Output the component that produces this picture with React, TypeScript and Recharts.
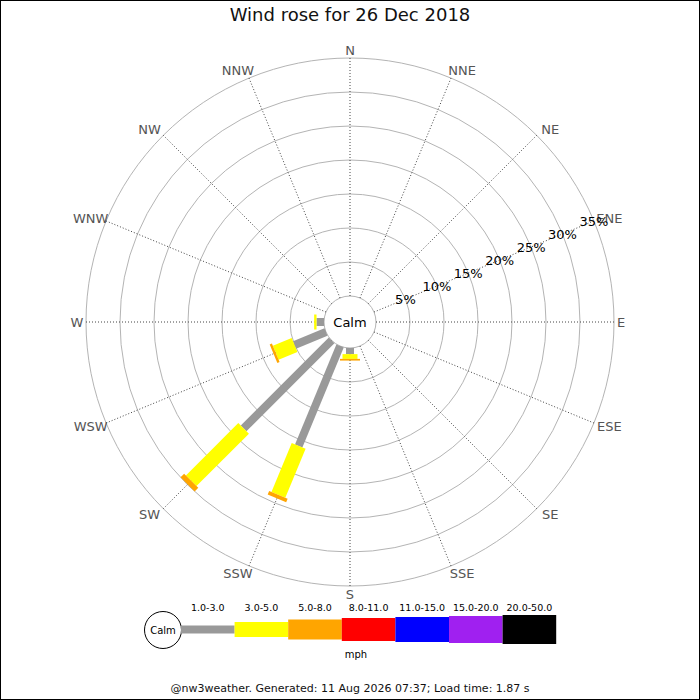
import React from "react";
import {
  RadialBarChart,
  RadialBar,
  PolarGrid,
  PolarAngleAxis,
  PolarRadiusAxis,
  Legend,
  Customized,
} from "recharts";

document.body.style.margin = "0";

// 16 compass points, clockwise from north
const directions = ["N", "NNE", "NE", "ENE", "E", "ESE", "SE", "SSE", "S", "SSW", "SW", "WSW", "W", "WNW", "NW", "NNW"];
// % of the day from each direction, per speed band (mph)
const speed1to3 = [0, 0, 0, 0, 0, 0, 0, 0, 0.9, 15.9, 18.3, 5.0, 1.1, 0, 0, 0];
const speed3to5 = [0, 0, 0, 0, 0, 0, 0, 0, 0.7, 7.8, 10.9, 3.0, 0.35, 0, 0, 0];
const speed5to8 = [0, 0, 0, 0, 0, 0, 0, 0, 0.25, 0.55, 0.75, 0.35, 0, 0, 0, 0];
const percentTicks = [0, 5, 10, 15, 20, 25, 30, 35];
const speedBands = ["1.0-3.0", "3.0-5.0", "5.0-8.0", "8.0-11.0", "11.0-15.0", "15.0-20.0", "20.0-50.0"];

const bandColors = ["#999999", "#ffff00", "#ffa500", "#ff0000", "#0000ff", "#a020f0", "#000000"];
const bandWidths = [8, 15, 20, 23, 25, 27, 29];

const CX = 350;
const CY = 322;
const FONT = "DejaVu Sans, sans-serif";

const data = directions.map((dir, i) => ({
  dir,
  s1: speed1to3[i],
  s2: speed3to5[i],
  s3: speed5to8[i],
}));

const RAD = Math.PI / 180;

// straight bar of constant width; with no category gap the sector starts on the direction's tick
function barShape(width: number) {
  return (props: any) => {
    const { cx, cy, innerRadius, outerRadius, startAngle, fill } = props;
    if (!(outerRadius - innerRadius > 0.05)) return <g />;
    const a = startAngle * RAD;
    const ux = Math.cos(-a);
    const uy = Math.sin(-a);
    const nx = -uy * (width / 2);
    const ny = ux * (width / 2);
    const p = (r: number, s: number) => `${cx + ux * r + s * nx},${cy + uy * r + s * ny}`;
    const pts = [p(innerRadius, 1), p(outerRadius, 1), p(outerRadius, -1), p(innerRadius, -1)].join(" ");
    return <polygon points={pts} fill={fill} stroke="none" />;
  };
}

function DirTick(props: any) {
  const { x, y, payload } = props;
  const dx = x - CX;
  const shift = Math.abs(y - CY) < 2 ? -1 : Math.sign(Math.round(dx)) * 8;
  return (
    <text x={x + shift} y={y} dy="0.36em" textAnchor="middle" fill="#555" fontSize={13} fontFamily={FONT}>
      {payload.value}
    </text>
  );
}

function PctTick(props: any) {
  const { x, y, payload } = props;
  if (payload.value === 0) return <g />;
  return (
    <text x={x} y={y} dy="0.36em" textAnchor="middle" fill="#000" fontSize={13} fontFamily={FONT}>
      {payload.value}%
    </text>
  );
}

function CalmLabel() {
  return (
    <text x={CX} y={CY} dy="0.36em" textAnchor="middle" fontSize={13} fontFamily={FONT} fill="#000">
      Calm
    </text>
  );
}

function SpeedLegend() {
  const left = 181;
  const step = 53.6;
  const mid = 629.5;
  return (
    <svg width={700} height={110} style={{ display: "block" }}>
      <g transform="translate(0,-590)">
        <circle cx={163} cy={630} r={18.5} fill="#fff" stroke="#000" />
        <text x={163} y={630} dy="0.36em" textAnchor="middle" fontSize={10} fontFamily={FONT}>
          Calm
        </text>
        {speedBands.map((label, i) => (
          <g key={label}>
            <rect x={left + i * step} y={mid - bandWidths[i] / 2} width={step} height={bandWidths[i]} fill={bandColors[i]} />
            <text x={left + i * step + step / 2} y={611} textAnchor="middle" fontSize={9.5} fontFamily={FONT}>
              {label}
            </text>
          </g>
        ))}
        <text x={356} y={658} textAnchor="middle" fontSize={10} fontFamily={FONT}>
          mph
        </text>
      </g>
    </svg>
  );
}

export default function App() {
  return (
    <div style={{ position: "relative", width: 700, height: 700, background: "#fff", fontFamily: FONT }}>
      <div style={{ position: "absolute", top: 4, left: 0, width: 700, textAlign: "center", fontSize: 18, color: "#111" }}>
        Wind rose for 26 Dec 2018
      </div>
      <RadialBarChart
        width={700}
        height={700}
        data={data}
        layout="centric"
        cx={CX}
        cy={CY}
        innerRadius={26}
        outerRadius={264}
        startAngle={90}
        endAngle={-270}
        barCategoryGap={0}
        margin={{ top: 0, right: 0, bottom: 0, left: 0 }}
      >
        <PolarGrid gridType="circle" radialLines={false} stroke="#b4b4b4" />
        <PolarGrid gridType="circle" polarRadius={[]} stroke="#444" strokeDasharray="1 2" />
        <PolarAngleAxis dataKey="dir" type="category" axisLine={false} tickLine={false} tick={DirTick} />
        <PolarRadiusAxis
          type="number"
          domain={[0, 35]}
          ticks={percentTicks}
          angle={22.5}
          axisLine={false}
          tickLine={false}
          tick={PctTick}
        />
        <RadialBar dataKey="s1" stackId="w" fill={bandColors[0]} shape={barShape(bandWidths[0])} isAnimationActive={false} />
        <RadialBar dataKey="s2" stackId="w" fill={bandColors[1]} shape={barShape(bandWidths[1])} isAnimationActive={false} />
        <RadialBar dataKey="s3" stackId="w" fill={bandColors[2]} shape={barShape(bandWidths[2])} isAnimationActive={false} />
        <Customized component={<CalmLabel />} />
        <Legend content={<SpeedLegend />} wrapperStyle={{ position: "absolute", top: 590, left: 0, width: 700 }} />
      </RadialBarChart>
      <div style={{ position: "absolute", top: 682, left: 0, width: 700, textAlign: "center", fontSize: 11, color: "#111" }}>
        @nw3weather. Generated: 11 Aug 2026 07:37; Load time: 1.87 s
      </div>
      <div style={{ position: "absolute", inset: 0, border: "1px solid #000", pointerEvents: "none" }} />
    </div>
  );
}
